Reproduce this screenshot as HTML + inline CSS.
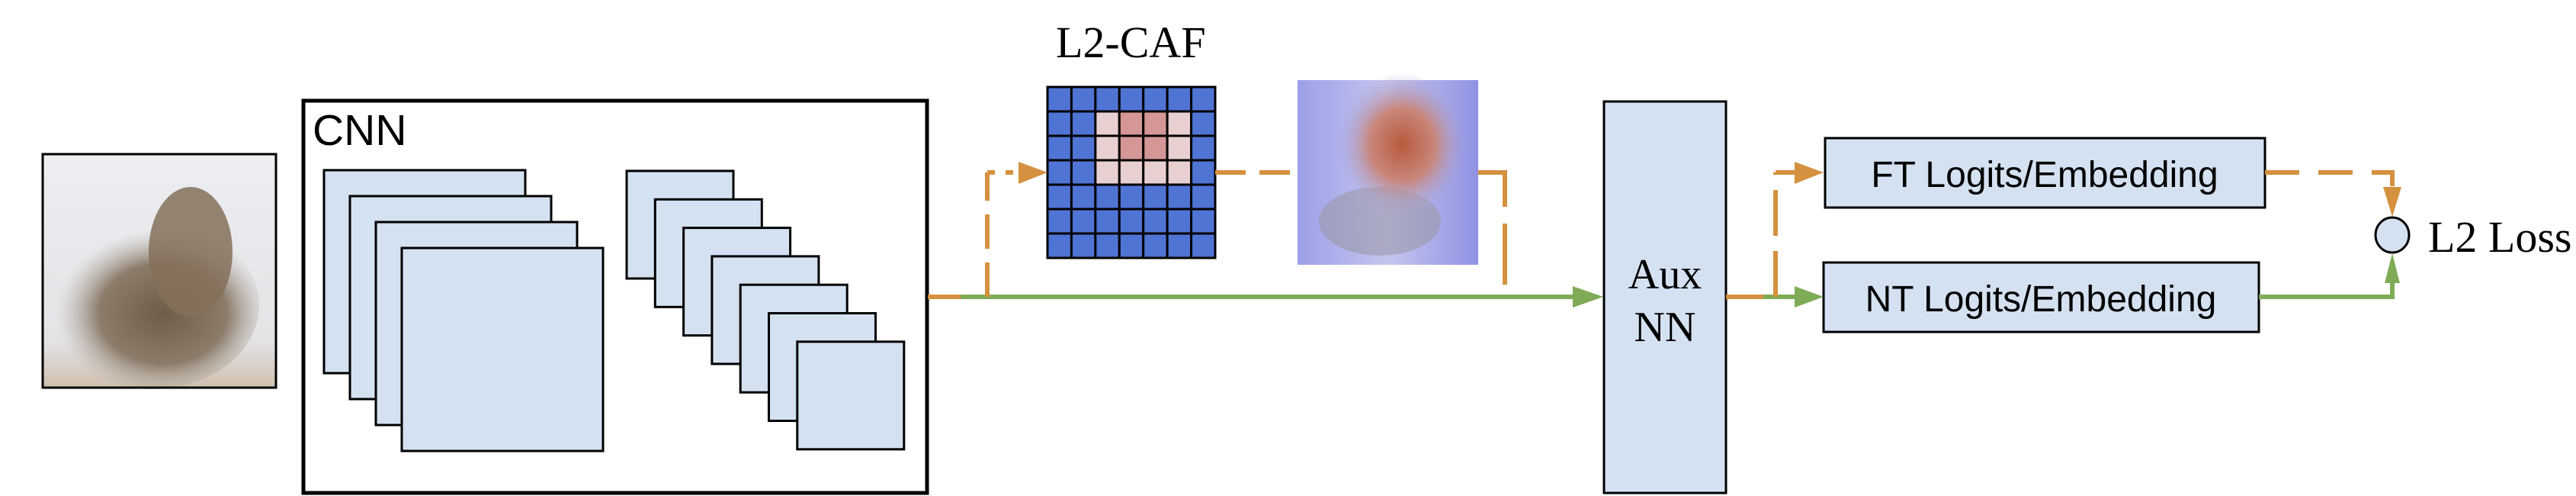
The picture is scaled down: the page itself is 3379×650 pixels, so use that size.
<!DOCTYPE html>
<html><head><meta charset="utf-8"><style>
html,body{margin:0;padding:0;background:#fff;}
svg{display:block;}
</style></head><body>
<svg id="diagram" width="3379" height="650" viewBox="0 0 3379 650" xmlns="http://www.w3.org/2000/svg">
<defs>
  <radialGradient id="catBody" cx="0.55" cy="0.55" r="0.5">
    <stop offset="0" stop-color="#6e5c48"/>
    <stop offset="0.6" stop-color="#8c7c6a"/>
    <stop offset="1" stop-color="#b9b3ab" stop-opacity="0"/>
  </radialGradient>
  <linearGradient id="catBg" x1="0" y1="0" x2="0" y2="1">
    <stop offset="0" stop-color="#eceef2"/>
    <stop offset="0.8" stop-color="#e4e3e6"/>
    <stop offset="1" stop-color="#cfc0ae"/>
  </linearGradient>
  <radialGradient id="heatRed" cx="0.55" cy="0.45" r="0.45">
    <stop offset="0" stop-color="#b85a3c"/>
    <stop offset="0.5" stop-color="#c9867a"/>
    <stop offset="1" stop-color="#a7a6dc" stop-opacity="0"/>
  </radialGradient>
  <linearGradient id="heatBg" x1="0" y1="0" x2="1" y2="0">
    <stop offset="0" stop-color="#9c9fe8"/>
    <stop offset="0.5" stop-color="#c5c6ee"/>
    <stop offset="1" stop-color="#8f92e4"/>
  </linearGradient>
</defs>

<g>
  <rect x="56" y="202" width="306" height="306" fill="url(#catBg)"/>
  <ellipse cx="200" cy="400" rx="140" ry="110" fill="url(#catBody)"/>
  <ellipse cx="250" cy="330" rx="55" ry="85" fill="#85705a" opacity="0.85"/>
  <rect x="56" y="202" width="306" height="306" fill="none" stroke="#000" stroke-width="3"/>
</g>

<g>
  <rect x="398" y="132" width="818" height="514" fill="#fff" stroke="#000" stroke-width="5"/>
  <text x="410" y="190" font-family="Liberation Sans, sans-serif" font-size="57">CNN</text>
  <g id="bigStack"></g>
  <g id="smallStack"></g>
</g>

<text x="1385" y="75" font-family="Liberation Serif, serif" font-size="58">L2-CAF</text>
<g id="cafGrid"></g>

<g>
  <rect x="1702" y="105" width="237" height="242" fill="url(#heatBg)"/>
  <ellipse cx="1810" cy="290" rx="80" ry="45" fill="#9b97a8" opacity="0.6"/>
  <ellipse cx="1830" cy="200" rx="95" ry="105" fill="url(#heatRed)"/>
</g>

<g>
  <rect x="2104" y="133" width="160" height="513" fill="#d4e1f1" stroke="#000" stroke-width="3"/>
  <text x="2184" y="378" text-anchor="middle" font-family="Liberation Serif, serif" font-size="56">Aux</text>
  <text x="2184" y="447" text-anchor="middle" font-family="Liberation Serif, serif" font-size="56">NN</text>
</g>

<g>
  <rect x="2394" y="181" width="577" height="91" fill="#d4e1f1" stroke="#000" stroke-width="3"/>
  <text x="2682" y="245" text-anchor="middle" font-family="Liberation Sans, sans-serif" font-size="48">FT Logits/Embedding</text>
</g>
<g>
  <rect x="2392" y="344" width="571" height="91" fill="#d4e1f1" stroke="#000" stroke-width="3"/>
  <text x="2677" y="408" text-anchor="middle" font-family="Liberation Sans, sans-serif" font-size="48">NT Logits/Embedding</text>
</g>

<g stroke="#7fab57" stroke-width="6" fill="none">
  <line x1="1217" y1="389" x2="2068" y2="389"/>
  <line x1="2313" y1="389" x2="2358" y2="389"/>
  <polyline points="2963,389 3138,389 3138,368"/>
</g>
<g fill="#7fab57">
  <polygon points="2063,375 2103,389 2063,403"/>
  <polygon points="2354,375 2392,389 2354,403"/>
  <polygon points="3128,371 3138,332 3148,371"/>
</g>
<g stroke="#d4913f" stroke-width="6" fill="none">
  <line x1="1217" y1="389" x2="1260" y2="389"/>
  <line x1="1295" y1="389" x2="1295" y2="226" stroke-dasharray="45,18"/>
  <line x1="1295" y1="226" x2="1340" y2="226" stroke-dasharray="10,14"/>
  <line x1="1594" y1="226" x2="1702" y2="226" stroke-dasharray="40,18"/>
  <polyline points="1939,226 1974,226 1974,389"  stroke-dasharray="80,22"/>
  <line x1="2264" y1="389" x2="2313" y2="389"/>
  <line x1="2329" y1="389" x2="2329" y2="226" stroke-dasharray="60,20"/>
  <line x1="2329" y1="226" x2="2356" y2="226"/>
  <polyline points="2971,226 3138,226 3138,250" stroke-dasharray="45,25"/>
</g>
<g fill="#d4913f">
  <polygon points="1336,212 1374,226 1336,241"/>
  <polygon points="2354,212 2392,226 2354,241"/>
  <polygon points="3126,245 3150,245 3138,284"/>
</g>

<ellipse cx="3138" cy="308" rx="22" ry="23" fill="#d4e1f1" stroke="#000" stroke-width="3"/>
<text x="3185" y="330" font-family="Liberation Serif, serif" font-size="58">L2 Loss</text>
</svg>

<script>
var NS = 'http://www.w3.org/2000/svg';
// feature-map stacks
var bigCount = 4;
var smallCount = 7;
// L2-CAF attention levels (0 = low/blue, 1 = medium, 2 = high)
var cafRow0 = [0,0,0,0,0,0,0];
var cafRow1 = [0,0,1,2,2,1,0];
var cafRow2 = [0,0,1,2,2,1,0];
var cafRow3 = [0,0,1,1,1,1,0];
var cafRow4 = [0,0,0,0,0,0,0];
var cafRow5 = [0,0,0,0,0,0,0];
var cafRow6 = [0,0,0,0,0,0,0];
var cafRows = [cafRow0,cafRow1,cafRow2,cafRow3,cafRow4,cafRow5,cafRow6];
var cafColors = ['#4f74d4','#e9d0d0','#d59696'];

function stack(gid, n, x0, y0, w, h, dx, dy, name){
  var g = document.getElementById(gid);
  for(var i=0;i<n;i++){
    var r = document.createElementNS(NS,'rect');
    r.setAttribute('x', x0+i*dx); r.setAttribute('y', y0+i*dy);
    r.setAttribute('width', w); r.setAttribute('height', h);
    r.setAttribute('fill','#d4e1f1'); r.setAttribute('stroke','#000'); r.setAttribute('stroke-width','3');
    
    
    g.appendChild(r);
  }
}
stack('bigStack', bigCount, 425, 223, 264, 266, 34, 34, 'feature-map');
stack('smallStack', smallCount, 822, 224, 140, 141, 37.3, 37.3, 'feature-map');

(function(){
  var g = document.getElementById('cafGrid');
  var x0=1374, y0=114, cw=220/7, ch=224/7;
  for(var ri=0; ri<cafRows.length; ri++){
    var row = cafRows[ri];
    for(var ci=0; ci<row.length; ci++){
      var r = document.createElementNS(NS,'rect');
      r.setAttribute('x', x0+ci*cw); r.setAttribute('y', y0+ri*ch);
      r.setAttribute('width', cw); r.setAttribute('height', ch);
      r.setAttribute('fill', cafColors[row[ci]]); r.setAttribute('stroke','#000'); r.setAttribute('stroke-width','3');
      
      
      g.appendChild(r);
    }
  }
})();
</script>
</body></html>
